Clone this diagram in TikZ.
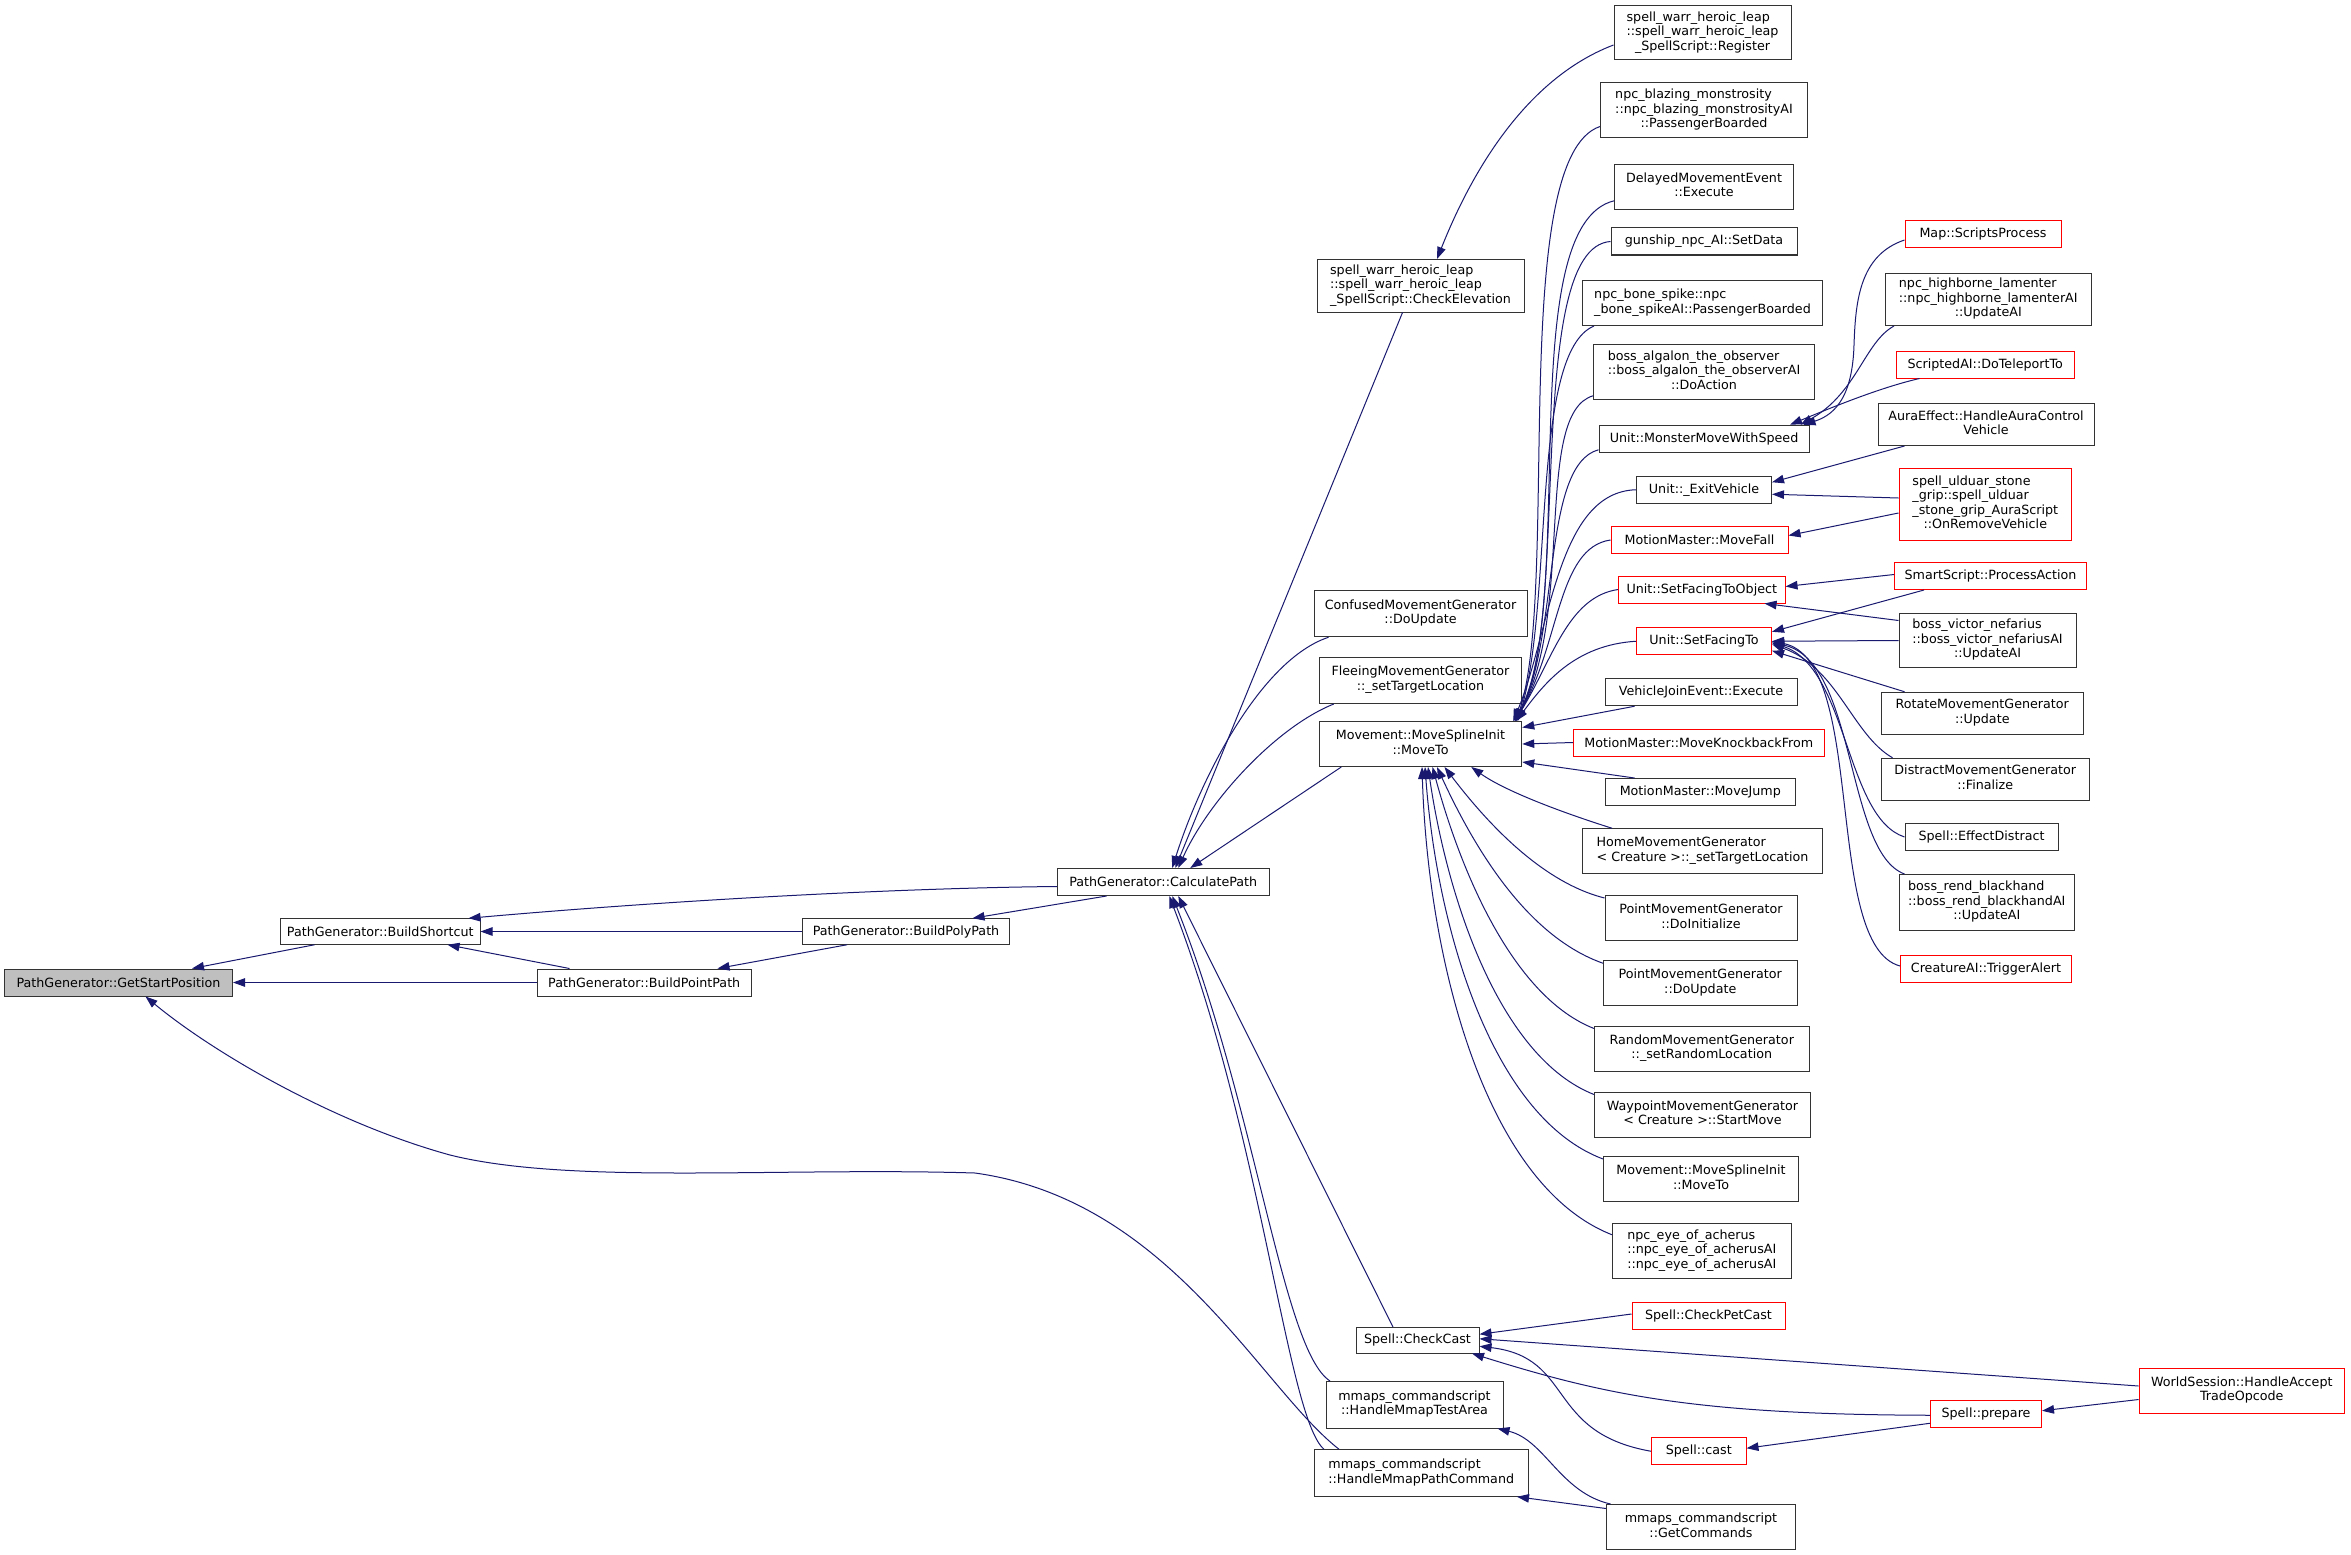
\documentclass[tikz,border=0pt]{standalone}
\usepackage{fontspec}
\setmainfont{DejaVu Sans}
\usetikzlibrary{arrows.meta,calc}
\definecolor{navy}{HTML}{191970}
\definecolor{gboxfill}{HTML}{BFBFBF}
\definecolor{redline}{HTML}{FF0000}
\newcommand\ml[2]{\begin{tabular}{@{}l@{}}#1\\\multicolumn{1}{@{}c@{}}{#2}\end{tabular}}
\begin{document}
\begin{tikzpicture}[x=1.5pt,y=-1.5pt,
 box/.style={draw=black!80, line width=1pt, fill=white, inner sep=1pt, font=\fontsize{12.7}{14.5}\selectfont, text=black},
 rbox/.style={box, draw=redline},
 gbx/.style={box, fill=gboxfill},
 sz/.style 2 args={minimum width=#1*1.5pt, minimum height=#2*1.5pt},
 call/.style={draw=navy, line width=1pt, -{Triangle[length=12pt,width=8.5pt]}}]
\fill[white] (0,0) rectangle (1567.33,1036);
\useasboundingbox (0,0) rectangle (1567.33,1036);

% left part
\node[gbx,sz={152}{18}] (gsp) at (79,655) {PathGenerator::GetStartPosition};
\node[box,sz={133}{17}] (bsc) at (253.5,621) {PathGenerator::BuildShortcut};
\node[box,sz={143}{18}] (bpp) at (429.5,655) {PathGenerator::BuildPointPath};
\node[box,sz={138}{17}] (bpoly) at (604,621) {PathGenerator::BuildPolyPath};
\node[box,sz={141}{18}] (calc) at (775.5,588) {PathGenerator::CalculatePath};

% column 1
\node[box,sz={138}{35}] (chkel) at (947,190.5) {\ml{spell\_warr\_heroic\_leap\\::spell\_warr\_heroic\_leap}{\_SpellScript::CheckElevation}};
\node[box,sz={142}{31}] (conf) at (947,409) {\ml{ConfusedMovementGenerator}{::DoUpdate}};
\node[box,sz={135}{31}] (flee) at (947,453.5) {\ml{FleeingMovementGenerator}{::\_setTargetLocation}};
\node[box,sz={135}{30}] (msi) at (947,496) {\ml{Movement::MoveSplineInit}{::MoveTo}};
\node[box,sz={82}{17}] (ccast) at (945,893.5) {Spell::CheckCast};
\node[box,sz={118}{31}] (mtest) at (943,936.5) {\ml{mmaps\_commandscript}{::HandleMmapTestArea}};
\node[box,sz={143}{31}] (mpath) at (947.5,982) {\ml{mmaps\_commandscript}{::HandleMmapPathCommand}};

% column 2
\node[box,sz={118}{36}] (reg) at (1135,22) {\ml{spell\_warr\_heroic\_leap\\::spell\_warr\_heroic\_leap}{\_SpellScript::Register}};
\node[box,sz={138}{37}] (blaz) at (1136,73.5) {\ml{npc\_blazing\_monstrosity\\::npc\_blazing\_monstrosityAI}{::PassengerBoarded}};
\node[box,sz={119}{30}] (delay) at (1136,124.5) {\ml{DelayedMovementEvent}{::Execute}};
\node[box,sz={124}{18}] (gun) at (1136,161) {gunship\_npc\_AI::SetData};
\node[box,sz={160}{30}] (bone) at (1135,202) {\ml{npc\_bone\_spike::npc}{\_bone\_spikeAI::PassengerBoarded}};
\node[box,sz={147}{37}] (alg) at (1136,248) {\ml{boss\_algalon\_the\_observer\\::boss\_algalon\_the\_observerAI}{::DoAction}};
\node[box,sz={140}{18}] (mmws) at (1136,292.5) {Unit::MonsterMoveWithSpeed};
\node[box,sz={90}{18}] (exitv) at (1136,326.5) {Unit::\_ExitVehicle};
\node[rbox,sz={118}{18}] (mfall) at (1133,360) {MotionMaster::MoveFall};
\node[rbox,sz={111}{18}] (sfto) at (1134.5,393) {Unit::SetFacingToObject};
\node[rbox,sz={90}{18}] (sft) at (1136,427.5) {Unit::SetFacingTo};
\node[box,sz={128}{18}] (vje) at (1134,461.5) {VehicleJoinEvent::Execute};
\node[rbox,sz={167}{18}] (knock) at (1132.5,495) {MotionMaster::MoveKnockbackFrom};
\node[box,sz={127}{18}] (mjump) at (1133.5,528) {MotionMaster::MoveJump};
\node[box,sz={160}{30}] (home) at (1135,567.5) {\ml{HomeMovementGenerator}{< Creature >::\_setTargetLocation}};
\node[box,sz={128}{30}] (pinit) at (1134,612) {\ml{PointMovementGenerator}{::DoInitialize}};
\node[box,sz={129}{30}] (pupd) at (1133.5,655.5) {\ml{PointMovementGenerator}{::DoUpdate}};
\node[box,sz={143}{30}] (rand) at (1134.5,699) {\ml{RandomMovementGenerator}{::\_setRandomLocation}};
\node[box,sz={144}{30}] (wayp) at (1135,743) {\ml{WaypointMovementGenerator}{< Creature >::StartMove}};
\node[box,sz={130}{30}] (msi2) at (1134,786) {\ml{Movement::MoveSplineInit}{::MoveTo}};
\node[box,sz={119}{37}] (eye) at (1134.5,834) {\ml{npc\_eye\_of\_acherus\\::npc\_eye\_of\_acherusAI}{::npc\_eye\_of\_acherusAI}};
\node[rbox,sz={102}{18}] (pet) at (1139,877) {Spell::CheckPetCast};
\node[rbox,sz={63}{18}] (cast) at (1132.5,967.5) {Spell::cast};
\node[box,sz={126}{30}] (getc) at (1134,1018) {\ml{mmaps\_commandscript}{::GetCommands}};

% column 3
\node[rbox,sz={104}{18}] (sp) at (1322,156) {Map::ScriptsProcess};
\node[box,sz={137}{35}] (hbl) at (1325.5,199.5) {\ml{npc\_highborne\_lamenter\\::npc\_highborne\_lamenterAI}{::UpdateAI}};
\node[rbox,sz={119}{18}] (tele) at (1323.5,243) {ScriptedAI::DoTeleportTo};
\node[box,sz={144}{28}] (aura) at (1324,283) {\ml{AuraEffect::HandleAuraControl}{Vehicle}};
\node[rbox,sz={115}{48}] (grip) at (1323.5,336) {\ml{spell\_ulduar\_stone\\\_grip::spell\_ulduar\\\_stone\_grip\_AuraScript}{::OnRemoveVehicle}};
\node[rbox,sz={128}{18}] (smart) at (1327,384) {SmartScript::ProcessAction};
\node[box,sz={118}{36}] (vic) at (1325,427) {\ml{boss\_victor\_nefarius\\::boss\_victor\_nefariusAI}{::UpdateAI}};
\node[box,sz={135}{28}] (rot) at (1321.5,475.5) {\ml{RotateMovementGenerator}{::Update}};
\node[box,sz={139}{28}] (dist) at (1323.5,519.5) {\ml{DistractMovementGenerator}{::Finalize}};
\node[box,sz={102}{18}] (edist) at (1321,558) {Spell::EffectDistract};
\node[box,sz={117}{37}] (rend) at (1324.5,601.5) {\ml{boss\_rend\_blackhand\\::boss\_rend\_blackhandAI}{::UpdateAI}};
\node[rbox,sz={114}{18}] (trig) at (1324,646) {CreatureAI::TriggerAlert};
\node[rbox,sz={74}{18}] (prep) at (1324,942.5) {Spell::prepare};
\node[rbox,sz={137}{30}] (ws) at (1494.5,927) {\ml{WorldSession::HandleAccept}{TradeOpcode}};

% edges: left part
\draw[call] ($(bsc.south west)+(23,0)$) -- ($(gsp.north)+(49,0)$);
\draw[call] (bpp.west) -- (gsp.east);
\draw[call] ($(mpath.north west)+(17,0)$) .. controls (840,925) and (780,800) .. (650,782) .. controls (520,778) and (380,790) .. (300,770) .. controls (220,748) and (140,700) .. ($(gsp.south)+(18,0)$);
\draw[call] ($(calc.west)+(0,3)$) .. controls (600,592) and (450,600) .. ($(bsc.north east)+(-8,0)$);
\draw[call] (bpoly.west) -- (bsc.east);
\draw[call] ($(bpp.north west)+(22,0)$) -- ($(bsc.south east)+(-22,0)$);
\draw[call] ($(bpoly.south west)+(30,0)$) -- ($(bpp.north east)+(-23,0)$);
\draw[call] ($(calc.south west)+(33,0)$) -- ($(bpoly.north east)+(-25,0)$);

% edges into CalculatePath
\draw[call] ($(chkel.south)+(-12,0)$) -- ($(calc.north)+(8,0)$);
\draw[call] ($(conf.south west)+(10,0)$) .. controls (840,440) and (800,520) .. ($(calc.north)+(6,0)$);
\draw[call] ($(flee.south west)+(10,0)$) .. controls (850,485) and (805,535) .. ($(calc.north)+(10,0)$);
\draw[call] ($(msi.south west)+(15,0)$) -- ($(calc.north)+(18,0)$);
\draw[call] ($(ccast.north west)+(25,0)$) -- ($(calc.south)+(10,0)$);
\draw[call] ($(mtest.north west)+(3,0)$) .. controls (855,900) and (838,740) .. ($(calc.south)+(6,0)$);
\draw[call] ($(mpath.north west)+(7,0)$) .. controls (858,945) and (842,760) .. ($(calc.south)+(4,0)$);
\draw[call] ($(reg.west)+(0,8)$) .. controls (1010,55) and (975,130) .. ($(chkel.north)+(11,0)$);

% edges into MoveSplineInit::MoveTo
\draw[call] ($(blaz.south west)+(0,-8)$) .. controls (1005,105) and (1040,390) .. ($(msi.north east)+(-4,0)$);
\draw[call] ($(delay.south west)+(0,-6)$) .. controls (1008,150) and (1052,400) .. ($(msi.north east)+(-5,0)$);
\draw[call] (gun.west) .. controls (1015,165) and (1048,420) .. ($(msi.north east)+(-6,0)$);
\draw[call] ($(bone.south west)+(8,0)$) .. controls (1020,235) and (1036,400) .. ($(msi.north east)+(-3,0)$);
\draw[call] ($(alg.south west)+(0,-3)$) .. controls (1022,275) and (1050,410) .. ($(msi.north east)+(-5,0)$);
\draw[call] ($(mmws.south west)+(0,-2)$) .. controls (1028,310) and (1040,420) .. ($(msi.north east)+(-4,0)$);
\draw[call] (exitv.west) .. controls (1038,328) and (1034,420) .. ($(msi.north east)+(-6,0)$);
\draw[call] (mfall.west) .. controls (1038,365) and (1040,430) .. ($(msi.north east)+(-5,0)$);
\draw[call] (sfto.west) .. controls (1045,398) and (1035,440) .. ($(msi.north east)+(-5,0)$);
\draw[call] (sft.west) .. controls (1050,430) and (1030,455) .. ($(msi.north east)+(-4,0)$);
\draw[call] ($(vje.south west)+(20,0)$) -- ($(msi.east)+(0,-11)$);
\draw[call] (knock.west) -- (msi.east);
\draw[call] ($(mjump.north west)+(20,0)$) -- ($(msi.east)+(0,12)$);
\draw[call] ($(home.north west)+(20,0)$) .. controls (1030,538) and (1000,525) .. ($(msi.south east)+(-34,0)$);
\draw[call] ($(pinit.north west)+(0,2)$) .. controls (1035,590) and (1000,560) .. ($(msi.south)+(16,0)$);
\draw[call] ($(pupd.north west)+(0,2)$) .. controls (1020,625) and (985,570) .. ($(msi.south)+(11,0)$);
\draw[call] ($(rand.north west)+(0,2)$) .. controls (1010,665) and (975,585) .. ($(msi.south)+(8,0)$);
\draw[call] ($(wayp.north west)+(0,2)$) .. controls (1000,705) and (965,600) .. ($(msi.south)+(5,0)$);
\draw[call] ($(msi2.north west)+(0,2)$) .. controls (995,745) and (958,620) .. ($(msi.south)+(3,0)$);
\draw[call] ($(eye.north west)+(0,8)$) .. controls (990,790) and (952,640) .. ($(msi.south)+(1,0)$);

% right part
\draw[call] ($(sp.west)+(0,4)$) .. controls (1240,170) and (1237,200) .. (1236,230) .. controls (1235,262) and (1225,276) .. ($(mmws.north east)+(-4,0)$);
\draw[call] ($(hbl.south west)+(6,0)$) .. controls (1243,228) and (1238,262) .. ($(mmws.north east)+(-6,0)$);
\draw[call] ($(tele.south west)+(16,0)$) .. controls (1255,258) and (1225,270) .. ($(mmws.north east)+(-13,0)$);
\draw[call] ($(aura.south west)+(18,0)$) -- ($(exitv.east)+(0,-5)$);
\draw[call] ($(grip.west)+(0,-4)$) -- ($(exitv.east)+(0,3)$);
\draw[call] ($(grip.west)+(0,6)$) -- ($(mfall.east)+(0,-3)$);
\draw[call] ($(smart.west)+(0,-1)$) -- ($(sfto.east)+(0,-2)$);
\draw[call] ($(vic.north west)+(0,5)$) -- ($(sfto.south east)+(-14,0)$);
\draw[call] ($(smart.south west)+(20,0)$) -- ($(sft.north east)+(0,3)$);
\draw[call] (vic.west) -- (sft.east);
\draw[call] ($(rot.north west)+(16,0)$) -- ($(sft.south east)+(0,-3)$);
\draw[call] ($(dist.north west)+(8,0)$) .. controls (1235,490) and (1225,445) .. ($(sft.east)+(0,2)$);
\draw[call] (edist.west) .. controls (1230,545) and (1232,445) .. ($(sft.east)+(0,1)$);
\draw[call] ($(rend.north west)+(4,0)$) .. controls (1230,568) and (1238,440) .. ($(sft.east)+(0,1)$);
\draw[call] ($(trig.west)+(0,-2)$) .. controls (1215,630) and (1245,440) .. (sft.east);

% bottom part
\draw[call] ($(pet.west)+(0,-1)$) -- ($(ccast.east)+(0,-4)$);
\draw[call] ($(ws.west)+(0,-3)$) -- ($(ccast.east)+(0,-1)$);
\draw[call] ($(prep.west)+(0,1)$) .. controls (1130,943) and (1070,930) .. ($(ccast.south east)+(-5,0)$);
\draw[call] (cast.west) .. controls (1030,955) and (1050,905) .. ($(ccast.east)+(0,4)$);
\draw[call] ($(prep.south west)+(0,-3)$) -- ($(cast.east)+(0,-2)$);
\draw[call] ($(ws.west)+(0,6)$) -- ($(prep.east)+(0,-2)$);
\draw[call] ($(getc.north west)+(3,0)$) .. controls (1040,995) and (1030,960) .. ($(mtest.south east)+(-4,0)$);
\draw[call] ($(getc.north west)+(0,3)$) -- ($(mpath.south east)+(-8,0)$);
\end{tikzpicture}
\end{document}
